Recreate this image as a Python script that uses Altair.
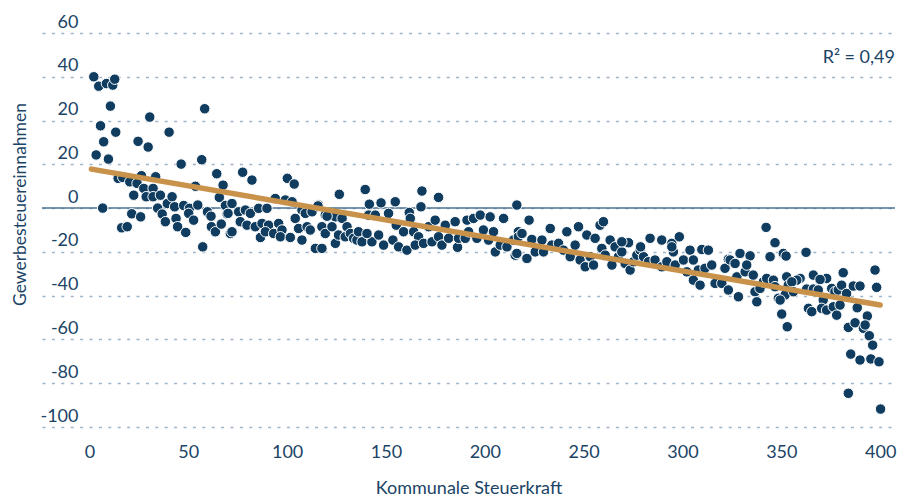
import altair as alt
import pandas as pd

# Scatter points (Kommunale Steuerkraft, Gewerbesteuereinnahmen)
xs = [
    2.2, 4.7, 8.6, 11.8, 12.8, 10.6, 5.6, 13.3, 7.2, 3.4, 9.6, 30.5, 24.6, 29.7, 40.3, 58.3, 46.4, 56.8, 6.7, 14.5,
    16.9, 20.4, 22.4, 26.3, 24.1, 27.5, 28.7, 32.2, 33.5, 32.2, 35.9, 34.5, 36.8, 38.4, 21.4, 25.9, 16.3, 19.1, 39.4, 41.8,
    43.1, 43.8, 44.6, 48.7, 47.7, 50.6, 50.2, 52.7, 54.8, 53.6, 57.3, 59.7, 61.5, 61.7, 63.7, 64.4, 67.6, 65.7, 68.8, 69.6,
    66.7, 71.3,
    77.5, 82.2, 100.1, 103.6, 126.4, 139.5, 141.6, 72.1, 70.1, 75.5, 78.9, 81.4, 85.6, 89.8, 94.0, 99.1, 102.5, 104.1,
    107.5, 109.2, 112.6, 115.9, 119.3, 124.4, 127.8, 72.1, 76.3, 79.7, 83.9, 87.3, 86.5, 90.6, 89.0, 93.2, 95.7, 97.4,
    96.6, 101.6, 105.8, 107.5, 110.1, 111.7, 114.3, 117.6, 117.6, 119.3, 122.7, 124.4, 126.0, 129.4, 130.3, 132.0, 133.6,
    135.3, 136.1, 137.9, 142.9, 141.2, 140.4, 115.6, 120.2,
    147.5, 154.7, 168.2, 176.6, 167.7, 161.8, 144.6, 151.3, 155.2, 158.9, 162.3, 164.0, 166.5, 146.3, 148.8, 153.5, 156.4,
    160.6, 164.8, 169.0, 171.6, 173.3, 174.9, 176.6, 178.3, 180.0, 181.7, 185.0, 186.2, 186.7, 190.1, 191.0, 191.8, 194.3,
    197.7, 196.0, 199.3, 202.7, 201.9, 204.4, 205.3, 209.5, 207.8, 211.2, 214.5, 215.4, 216.2, 217.0,
    222.4, 233.1, 241.5, 247.4, 258.3, 260.0, 251.6, 255.8, 263.4, 272.7, 283.6, 217.0, 218.8, 223.8, 228.9, 216.2, 221.3,
    225.5, 229.7, 233.9, 237.3, 239.8, 243.2, 245.7, 248.2, 250.8, 253.3, 255.0, 259.2, 260.9, 264.3, 265.9, 267.6, 269.3,
    271.0, 273.5, 275.2, 276.9, 278.6, 280.3, 282.8, 286.1, 289.5, 269.3, 278.8,
    289.5, 294.6, 295.4, 298.4, 303.8, 309.8, 313.1, 342.3, 346.8, 344.3, 351.0, 329.1, 334.2, 323.2, 292.1, 296.3, 300.5,
    302.2, 305.5, 305.5, 308.9, 308.0, 311.4, 314.8, 316.5, 319.9, 321.5, 323.2, 324.1, 326.6, 327.5, 328.3, 331.7, 332.5,
    335.8, 336.7, 337.6, 339.2, 340.9, 342.6, 346.0, 346.8, 348.5, 351.9, 352.7, 353.5, 294.6,
    352.4, 362.5, 397.4, 398.2, 381.3, 366.2, 372.9, 369.6, 359.5, 357.8, 355.3, 356.1, 349.4, 362.8, 366.2, 368.7, 371.2,
    375.5, 377.1, 378.8, 380.5, 383.0, 386.4, 389.8, 363.7, 365.4, 370.4, 372.9, 376.3, 379.7, 378.0, 388.4, 393.5, 350.2,
    353.0, 383.9, 387.3, 391.5, 392.4, 394.5, 396.2, 385.1, 389.8, 395.3, 399.4, 383.9, 400.2,
]
ys = [
    60.0, 55.7, 56.9, 56.2, 58.9, 46.6, 37.6, 34.7, 30.3, 24.3, 22.4, 41.6, 30.5, 27.9, 34.7, 45.4, 20.1, 22.1, 0.0, 13.6,
    14.0, 12.0, 5.9, 14.8, 11.3, 9.0, 5.2, 9.0, 14.3, 5.2, 5.9, 0.0, -2.7, -6.2, -2.6, -4.0, -9.0, -8.5, 2.1, 5.2,
    0.6, -4.7, -8.5, -11.1, 1.2, -0.1, -2.4, -5.5, 1.4, 10.0, -17.7, -1.7, -3.7, -8.5, -10.8, 15.7, 10.5, 4.9, 1.2, -2.7,
    -7.3, -11.6,
    16.4, 12.8, 13.6, 11.0, 6.3, 8.5, 1.8, 2.1, -2.4, -1.7, -0.9, -2.4, -0.1, -0.1, 4.4, 3.7, 2.9, -4.7,
    -0.9, -2.4, -1.7, 1.4, -3.2, -4.0, -4.7, -10.8, -6.2, -7.8, -8.5, -7.0, -13.4, -7.8, -10.8, -11.6, -7.0, -10.0,
    -13.1, -13.4, -9.3, -14.6, -8.5, -10.0, -18.4, -18.4, -8.5, -11.6, -8.5, -16.1, -12.3, -13.1, -8.5, -11.6, -13.8,
    -14.6, -10.8, -15.4, -15.4, -3.2, -11.6, 1.0, -3.7,
    2.4, 2.9, 7.8, 4.9, 0.6, -2.0, -3.2, -2.4, -7.8, -10.8, -4.7, -10.8, -13.1, -12.3, -16.9, -14.6, -17.7,
    -19.2, -16.9, -16.1, -8.5, -15.4, -5.5, -13.1, -16.9, -7.8, -13.8, -6.2, -17.9, -13.8, -13.8, -5.5, -10.8, -4.7,
    -3.2, -13.8, -10.0, -4.0, -14.6, -10.8, -20.0, -4.7, -16.9, -17.7, -14.6, -21.5, 1.4, -10.8,
    -5.5, -9.3, -10.8, -8.5, -7.8, -6.2, -12.3, -13.8, -14.6, -15.8, -13.8, -13.1, -11.6, -14.3, -14.6, -20.7, -23.0,
    -20.0, -20.0, -16.9, -16.1, -19.2, -22.2, -16.9, -23.7, -26.8, -22.2, -26.0, -18.4, -21.5, -26.0, -17.7, -22.2, -20.0,
    -25.3, -28.3, -24.5, -21.5, -19.2, -22.2, -24.5, -23.7, -26.8, -15.4, -17.7,
    -14.6, -16.1, -20.0, -13.1, -19.2, -18.9, -19.2, -8.8, -15.8, -22.2, -20.7, -20.7, -21.8, -23.4, -24.5, -26.0, -23.7,
    -29.1, -23.7, -32.9, -35.2, -28.3, -27.5, -26.0, -34.4, -34.4, -27.5, -37.4, -23.7, -25.3, -31.4, -40.5, -29.1, -26.0,
    -30.6, -38.2, -42.8, -36.7, -33.7, -32.1, -32.9, -35.9, -41.2, -39.7, -31.4, -35.2, -17.7,
    -21.9, -20.2, -28.3, -36.2, -29.5, -30.6, -32.1, -32.6, -32.1, -32.9, -33.7, -38.2, -42.0, -37.0, -37.0, -37.4, -42.0,
    -36.7, -38.2, -37.4, -35.2, -39.0, -35.6, -35.6, -45.8, -47.3, -45.8, -46.6, -45.1, -44.3, -48.9, -45.5, -49.3, -48.4,
    -54.2, -54.5, -52.4, -54.9, -53.4, -58.3, -62.6, -66.7, -69.4, -68.9, -70.2, -84.6, -91.8,
]

# Trend line end points
trend_x = [1, 400]
trend_y = [17.8, -44.3]

# Axis ticks
y_ticks = [-100, -80, -60, -40, -20, 0, 20, 40, 60, 80]
x_ticks = [0, 50, 100, 150, 200, 250, 300, 350, 400]

r2_label = "R² = 0,49"

TEXT = "#1b4466"
DOT = "#0f3c5f"
TREND = "#c8924b"
FONT = "Lato"

pts = pd.DataFrame({"x": xs, "y": ys})
trend = pd.DataFrame({"x": trend_x, "y": trend_y})
zero = pd.DataFrame({"y": [0]})

x_scale = alt.Scale(domain=[-24, 407.5], nice=False, zero=False)
y_scale = alt.Scale(domain=[-100, 80], nice=False, zero=False)

x_axis = alt.Axis(
    title="Kommunale Steuerkraft", values=x_ticks, grid=False, ticks=False, domain=False,
    labelFontSize=18, labelColor=TEXT, labelFont=FONT, labelBaseline="alphabetic", labelPadding=30,
    titleFontSize=18, titleColor=TEXT, titleFont=FONT, titleFontWeight="normal",
    titleY=66, titleBaseline="alphabetic",
)
y_axis = alt.Axis(
    title="Gewerbesteuereinnahmen", values=y_ticks, grid=True, ticks=False, domain=False,
    gridColor="#9fb4c9", gridDash=[3, 6.4], gridWidth=1.5,
    labelExpr="datum.value == 80 ? '60' : datum.value == 60 ? '40' : datum.value == 40 ? '20' : '' + datum.value",
    labelFontSize=18, labelColor=TEXT, labelFont=FONT, labelAlign="right", labelBaseline="alphabetic",
    labelPadding=-36, labelOffset=-6,
    titleFontSize=17.5, titleColor=TEXT, titleFont=FONT, titleFontWeight="normal",
    titleX=-13, titleY=171, titleAngle=-90,
)

base_points = alt.Chart(pts).mark_circle(
    size=110, color=DOT, opacity=1, stroke="white", strokeWidth=1
).encode(
    x=alt.X("x:Q", scale=x_scale, axis=x_axis),
    y=alt.Y("y:Q", scale=y_scale, axis=y_axis),
)

zero_rule = alt.Chart(zero).mark_rule(color="#4d7391", strokeWidth=1.5).encode(
    y=alt.Y("y:Q", scale=y_scale)
)

trend_line = alt.Chart(trend).mark_line(color=TREND, strokeWidth=5.5, strokeCap="round").encode(
    x=alt.X("x:Q", scale=x_scale),
    y=alt.Y("y:Q", scale=y_scale),
)

r2 = alt.Chart(pd.DataFrame({"t": [r2_label]})).mark_text(
    align="right", baseline="middle", fontSize=18, font=FONT, color=TEXT
).encode(x=alt.value(853), y=alt.value(25), text="t:N")

chart = alt.layer(zero_rule, base_points, trend_line, r2).properties(
    width=853, height=394,
    autosize=alt.AutoSizeParams(type="none"),
    padding={"left": 34, "top": 25, "right": 3, "bottom": 72},
    background="white",
).configure_view(stroke=None)

chart.save("out.html", embed_options={"renderer": "svg", "actions": False})
